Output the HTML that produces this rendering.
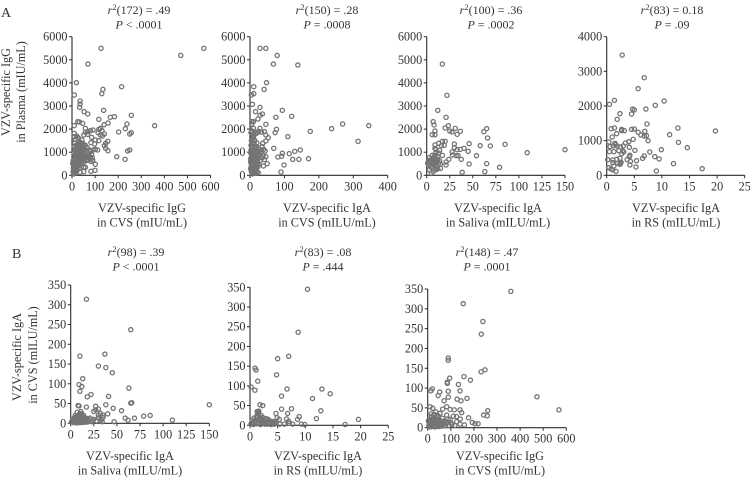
<!DOCTYPE html>
<html lang="en">
<head>
<meta charset="utf-8">
<title>VZV-specific antibody correlations</title>
<style>
html,body{margin:0;padding:0;background:#fff;width:750px;height:478px;overflow:hidden}
svg{display:block;filter:blur(0.3px)}
text{font-family:"Liberation Serif",serif;fill:#333;font-size:12.2px}
.ttl{font-size:12px}
</style>
</head>
<body>
<svg id="figure" width="750" height="478" viewBox="0 0 750 478" xmlns="http://www.w3.org/2000/svg"></svg>
<script>
const ticksIgG = [0,100,200,300,400,500,600];
const ticksIgACvs = [0,100,200,300,400];
const ticksSaliva = [0,25,50,75,100,125,150];
const ticksRS = [0,5,10,15,20,25];
const ticksPlasma6k = [0,1000,2000,3000,4000,5000,6000];
const ticksPlasma4k = [0,1000,2000,3000,4000];
const ticksCvs350 = [0,50,100,150,200,250,300,350];

const pointsA1 = [[126,5495],[471,5190],[571,5495],[69,4817],[19,4010],[10,3476],[215,3836],[134,3720],[129,3534],[35,3216],[35,3087],[33,2942],[137,2812],[52,2755],[68,2654],[257,2596],[184,2538],[166,2510],[116,2423],[25,2322],[32,2308],[46,2250],[10,2149],[358,2149],[238,2221],[231,2019],[156,2264],[139,2192],[202,1875],[257,1846],[250,1788],[116,1990],[123,2033],[130,1933],[113,1846],[123,1745],[140,1788],[132,1702],[101,1529],[116,1500],[155,1471],[146,1385],[140,1284],[146,1168],[156,1067],[111,1096],[101,1125],[194,807],[230,692],[241,1053],[250,1096],[101,476],[100,216],[82,173],[51,159],[51,346],[58,346],[58,2033],[80,1933],[91,1961],[68,1889],[58,1860],[51,1745],[68,1773],[85,1644],[10,1817],[10,1673],[25,1644],[43,1529],[82,1413],[98,1356],[5,150],[6,300],[8,500],[10,80],[10,700],[12,250],[13,420],[14,900],[15,600],[16,1100],[17,130],[18,350],[18,760],[20,1000],[20,520],[22,220],[22,1250],[24,660],[25,880],[26,410],[27,1150],[28,1350],[30,570],[30,300],[31,760],[32,1000],[33,1230],[34,900],[35,130],[36,1420],[37,1080],[38,700],[39,480],[40,1300],[41,850],[42,1160],[44,620],[45,1000],[46,1380],[48,780],[49,1250],[50,560],[52,920],[54,1100],[56,720],[58,1300],[60,840],[62,640],[64,1020],[66,1200],[68,780],[70,900],[72,660],[74,1100],[76,820],[78,720],[80,1030],[82,600],[85,900],[88,760],[90,650],[92,1100],[12,1400],[15,1550],[20,1700],[28,1600],[3,520],[5,640],[7,60],[9,960],[11,380],[12,1120],[14,180],[16,800],[18,1300],[19,540],[21,640],[23,340],[25,1020],[27,760],[29,1240],[31,440],[33,1100],[35,620],[37,1300],[39,900],[41,1040],[43,760],[45,1180],[47,880],[10,1250],[8,330],[6,420],[9,620],[11,220],[13,780],[15,340],[17,960],[19,1180],[21,460],[23,820],[24,1120],[26,600],[28,1000],[30,820],[32,680],[34,1300],[36,540],[38,1180],[40,960],[42,1400],[44,860],[46,700],[48,1100],[50,1320],[52,640],[54,800]];

const pointsA2 = [[29,5495],[46,5495],[79,5190],[68,4817],[139,4774],[48,4010],[11,3836],[41,3720],[11,3534],[4,3476],[7,3072],[29,2942],[16,2755],[94,2812],[36,2654],[29,2596],[121,2553],[75,2510],[23,2437],[5,2322],[10,2322],[5,2221],[46,2207],[269,2221],[345,2149],[237,2019],[29,2033],[77,1990],[10,2033],[175,1904],[73,1846],[42,1889],[46,1745],[110,1673],[53,1630],[314,1471],[46,1486],[37,1385],[69,1168],[146,1096],[130,1038],[94,952],[114,938],[92,822],[81,793],[170,721],[124,692],[142,692],[46,807],[99,447],[50,505],[39,404],[90,144],[24,115],[3,1850],[6,1920],[9,1760],[13,1880],[17,1800],[21,1840],[25,1900],[33,1870],[4,1500],[8,1420],[12,1540],[3,1300],[7,1240],[11,1340],[16,1280],[20,1400],[25,1180],[30,1100],[35,1240],[40,1120],[44,1050],[3,1100],[7,1020],[11,1120],[15,1000],[19,1060],[23,940],[28,880],[32,960],[38,860],[42,680],[4,900],[8,830],[12,900],[16,780],[20,840],[24,720],[30,640],[35,760],[2,720],[6,640],[10,700],[14,600],[18,660],[22,560],[26,480],[3,520],[7,460],[11,520],[15,420],[19,480],[23,380],[3,340],[7,280],[11,340],[15,240],[19,300],[4,160],[8,120],[12,180],[16,90],[20,150],[9,1620],[14,1500],[18,1180],[26,1020],[10,1680],[5,1200],[9,1060],[13,960],[17,880],[21,760],[5,800],[9,580],[13,440],[17,360],[5,420],[9,220],[13,100],[6,60],[6,1380],[14,1220],[10,820],[2,980],[2,600],[2,280]];

const pointsA3 = [[17,4817],[22,3462],[12,2812],[21,2510],[7,2322],[8,2178],[23.5,2149],[20,2048],[31,2033],[25,1918],[27.5,1875],[36.5,1904],[33,1773],[9,1918],[6,1760],[9,1760],[65,2019],[62,1889],[66,1615],[17,1471],[20,1471],[13,1385],[19,1298],[16,1284],[9,1312],[9,1168],[46,1370],[30,1356],[58,1284],[69,1269],[85,1341],[40.5,1168],[30,1197],[36.5,1125],[33,1110],[45,1038],[27.5,1010],[150,1110],[109,980],[28,880],[32,850],[34,850],[54,850],[17,865],[37.5,692],[24,692],[21,577],[46,490],[65,505],[21,447],[79,346],[38.5,130],[63,159],[1,520],[2,620],[3,240],[3,760],[4,440],[5,680],[5,340],[6,860],[6,540],[7,160],[7,740],[8,450],[8,620],[9,860],[9,300],[10,560],[10,980],[11,700],[11,420],[12,820],[12,280],[13,960],[13,520],[14,640],[15,300],[15,480],[2,440],[4,580],[6,700],[8,800],[10,240],[12,620],[14,1080],[10,1120],[7,520],[5,100],[3,640]];

const pointsA4 = [[2.8,3470],[6.8,2817],[5.7,2500],[1.4,2163],[10.4,2144],[0.5,2048],[8.8,2019],[4.7,1913],[5,1885],[7.1,1913],[2.4,1779],[4.5,1769],[1.9,1615],[7.3,1481],[0.8,1346],[1.4,1365],[2.7,1327],[2.7,1288],[3.2,1288],[4.5,1327],[5,1337],[12.9,1365],[19.7,1279],[6.9,1269],[5.7,1240],[1.8,1202],[6.2,1163],[11.4,1173],[6.8,1135],[7.2,1144],[1,1106],[4.8,1038],[7.5,1000],[0.4,962],[13,952],[4,971],[3.4,933],[1.5,923],[1.6,885],[1.2,846],[1.9,846],[3,846],[0.6,827],[2.5,817],[4.1,808],[14.6,798],[9.9,740],[5.1,721],[2.2,712],[2.9,702],[0.5,683],[1.3,683],[7.8,673],[3.1,673],[2.7,625],[6.8,558],[8.7,538],[4.2,577],[4.1,538],[6.5,490],[9.5,471],[3.7,452],[0.2,452],[1.1,442],[1.8,462],[2.4,490],[5.4,423],[4.3,404],[1.1,365],[2.6,375],[2,346],[2.4,317],[4.2,298],[12.1,337],[5.3,240],[17.3,192],[1.3,269],[0.4,221],[0.8,183],[1.1,154],[1.7,115],[9,125],[2.5,346]];

const pointsB1 = [[17,314],[65,237],[10,170],[37,175],[30,145],[38,141],[45,128],[13,113],[9,98],[12,93],[63,89],[10,81],[22,73],[18,67],[41,68],[66,52],[65,51],[38,47],[150,47],[8,45],[9,44],[17,41],[27,43],[46,38],[30,36],[55,32],[25,30],[32,25],[40,24],[35,21],[86,20],[79,18],[59,13],[69,13],[62,8],[110,8],[47,4],[35,15],[30,14],[21,13],[23,4],[17,8],[34,4],[30,21],[27,34],[1,4],[2,10],[3,2],[4,14],[5,6],[5,20],[6,1],[6,11],[7,28],[7,4],[8,16],[8,8],[9,2],[9,22],[10,12],[10,5],[11,30],[11,8],[12,18],[12,2],[13,11],[13,5],[14,20],[14,9],[15,3],[15,14],[16,7],[18,12],[19,4],[20,9],[25,10],[28,6],[33,10],[3,8],[6,16],[9,13],[12,24],[15,8],[4,4],[5,12],[7,10],[8,2],[9,6],[10,18],[11,14],[12,6],[13,16],[14,3],[16,12],[17,3],[7,18],[10,25],[24,7],[32,6]];

const pointsB2 = [[10.4,345],[8.7,236],[5,169],[7,175],[0.9,145],[1.1,140],[4.8,128],[1.4,112],[0.2,97],[0.9,89],[6.7,92],[13,92],[14.5,80],[5.7,74],[11.3,68],[1.8,52],[2.3,50],[5.7,41],[7.5,42],[12.8,37],[6.8,30],[4.7,30],[1.6,36],[1.3,35],[8.9,22],[8.6,15],[12,17],[19.6,15],[4.9,19],[5.3,15],[6.6,16],[7,10],[17.2,2],[9.9,2],[9.3,3],[7.7,3],[7.1,5],[5.4,3],[0.2,4],[0.4,12],[0.6,2],[0.7,18],[0.9,8],[1.1,22],[1.2,4],[1.4,14],[1.5,28],[1.6,6],[1.8,18],[1.9,2],[2.1,12],[2.3,20],[2.4,5],[2.6,15],[2.8,8],[2.9,17],[3.1,3],[3.2,12],[3.4,7],[3.6,10],[3.8,2],[4,6],[4.2,9],[4.4,3],[4.5,8],[6.2,3],[1.4,30],[1,10],[0.5,7],[1.7,11],[2.2,7],[2.7,3],[3.3,15],[3.9,10],[1.3,20],[2,25],[1.5,33],[4.7,5]];

const pointsB3 = [[360,344],[154,313],[239,268],[232,236],[89,176],[89,170],[248,146],[231,141],[157,129],[95,125],[185,120],[85,115],[85,112],[133,109],[20,98],[14,93],[52,90],[89,92],[140,93],[45,81],[89,77],[473,78],[71,68],[127,72],[144,68],[170,74],[568,45],[10,53],[82,53],[22,49],[65,47],[97,46],[115,45],[140,45],[147,38],[260,43],[242,32],[258,30],[177,25],[193,13],[205,10],[218,10],[159,7],[141,22],[125,28],[111,29],[82,32],[97,21],[125,15],[140,9],[68,13],[35,40],[53,36],[25,32],[3,17],[5,5],[8,12],[10,2],[12,20],[14,8],[16,28],[18,14],[20,4],[22,18],[24,10],[26,24],[28,6],[30,15],[32,2],[34,20],[36,11],[38,28],[40,5],[42,17],[44,9],[46,22],[48,3],[50,14],[52,7],[55,18],[58,4],[60,11],[63,24],[66,8],[70,16],[75,5],[80,10],[88,22],[92,6],[105,8],[15,35],[30,33],[45,30],[18,3],[33,8],[7,9],[11,15],[15,20],[19,9],[23,13],[27,18],[31,10],[35,6],[39,14],[43,12],[47,18],[51,10],[57,12],[62,6],[72,10],[85,14],[100,12],[118,6]];

const NS = 'http://www.w3.org/2000/svg';
const svg = document.getElementById('figure');

function make(tag, attrs, parent) {
  const el = document.createElementNS(NS, tag);
  for (const k in attrs) el.setAttribute(k, attrs[k]);
  parent.appendChild(el);
  return el;
}
function addTitle(parent, cx, by, df, post, p) {
  const t1 = make('text', {x: cx, y: by, 'text-anchor': 'middle', class: 'ttl'}, parent);
  
  
  t1.innerHTML = '<tspan font-style="italic">r</tspan><tspan dy="-4" font-size="8.5">2</tspan><tspan dy="4">(' + df + ') = ' + post + '</tspan>';
  const t2 = make('text', {x: cx, y: by + 14.5, 'text-anchor': 'middle', class: 'ttl'}, parent);
  
  
  t2.innerHTML = '<tspan font-style="italic">P</tspan> ' + p;
}
function drawPanel(cfg) {
  const g = make('g', {}, svg);
  
  
  const sx = v => cfg.x0 + (v / cfg.xMax) * (cfg.x1 - cfg.x0);
  const sy = v => cfg.y0 - (v / cfg.yMax) * (cfg.y0 - cfg.y1);
  const axisColor = '#2b2b2b';

  const xa = make('line', {x1: cfg.x0, x2: cfg.x1, y1: cfg.y0, y2: cfg.y0, stroke: axisColor, 'stroke-width': 1.1}, g);
  
  
  const ya = make('line', {x1: cfg.x0, x2: cfg.x0, y1: cfg.y0, y2: cfg.y1, stroke: axisColor, 'stroke-width': 1.1}, g);
  
  

  cfg.xTicks.forEach(v => {
    make('line', {x1: sx(v), x2: sx(v), y1: cfg.y0, y2: cfg.y0 + 3, stroke: axisColor, 'stroke-width': 1}, g);
    const t = make('text', {x: sx(v), y: cfg.y0 + 15, 'text-anchor': 'middle'}, g);
    
    
    t.textContent = v;
  });
  cfg.yTicks.forEach(v => {
    make('line', {x1: cfg.x0 - 3, x2: cfg.x0, y1: sy(v), y2: sy(v), stroke: axisColor, 'stroke-width': 1}, g);
    const t = make('text', {x: cfg.x0 - 4.5, y: sy(v) + 4, 'text-anchor': 'end'}, g);
    
    
    t.textContent = v;
  });
  cfg.points.forEach(p => {
    const c = make('circle', {cx: sx(p[0]), cy: sy(p[1]), r: 2.1, fill: 'none', stroke: '#747474', 'stroke-width': 1.3}, g);
    
    
  });
  addTitle(g, cfg.titleX, cfg.titleY, cfg.df, cfg.r, cfg.p);
  cfg.xTitle.forEach((line, i) => {
    const t = make('text', {x: cfg.xTitleX, y: cfg.xTitleY + i * 14.3, 'text-anchor': 'middle'}, g);
    
    
    t.textContent = line;
  });
}

const panels = [
  {name:'panel-a-igg-cvs', x0:72, x1:210.5, xMax:600, y0:175.3, y1:36.7, yMax:6000, xTicks:ticksIgG, yTicks:ticksPlasma6k, points:pointsA1, titleX:139, titleY:14, df:'172', r:'.49', p:'&lt; .0001', xTitle:['VZV-specific IgG','in CVS (mIU/mL)'], xTitleX:142, xTitleY:212},
  {name:'panel-a-iga-cvs', x0:250, x1:387.7, xMax:400, y0:175.3, y1:36.7, yMax:6000, xTicks:ticksIgACvs, yTicks:ticksPlasma6k, points:pointsA2, titleX:327, titleY:14, df:'150', r:'.28', p:'= .0008', xTitle:['VZV-specific IgA','in CVS (mILU/mL)'], xTitleX:327, xTitleY:212},
  {name:'panel-a-iga-saliva', x0:426.7, x1:565, xMax:150, y0:175.3, y1:36.7, yMax:6000, xTicks:ticksSaliva, yTicks:ticksPlasma6k, points:pointsA3, titleX:491, titleY:14, df:'100', r:'.36', p:'= .0002', xTitle:['VZV-specific IgA','in Saliva (mILU/mL)'], xTitleX:498, xTitleY:212},
  {name:'panel-a-iga-rs', x0:606.7, x1:744.7, xMax:25, y0:175.3, y1:36.7, yMax:4000, xTicks:ticksRS, yTicks:ticksPlasma4k, points:pointsA4, titleX:672, titleY:14, df:'83', r:'0.18', p:'= .09', xTitle:['VZV-specific IgA','in RS (mILU/mL)'], xTitleX:676, xTitleY:212},
  {name:'panel-b-iga-saliva', x0:70.7, x1:209.3, xMax:150, y0:423.3, y1:285, yMax:350, xTicks:ticksSaliva, yTicks:ticksCvs350, points:pointsB1, titleX:136, titleY:256, df:'98', r:'.39', p:'&lt; .0001', xTitle:['VZV-specific IgA','in Saliva (mILU/mL)'], xTitleX:130, xTitleY:460},
  {name:'panel-b-iga-rs', x0:250, x1:388.3, xMax:25, y0:425.3, y1:287.3, yMax:350, xTicks:ticksRS, yTicks:ticksCvs350, points:pointsB2, titleX:323, titleY:256, df:'83', r:'.08', p:'= .444', xTitle:['VZV-specific IgA','in RS (mILU/mL)'], xTitleX:318, xTitleY:460},
  {name:'panel-b-igg-cvs', x0:427.7, x1:566.3, xMax:600, y0:427.7, y1:289, yMax:350, xTicks:ticksIgG, yTicks:ticksCvs350, points:pointsB3, titleX:487, titleY:256, df:'148', r:'.47', p:'= .0001', xTitle:['VZV-specific IgG','in CVS (mIU/mL)'], xTitleX:500, xTitleY:460}
];
panels.forEach(drawPanel);

const labelA = make('text', {x: 1, y: 17}, svg);


labelA.style.fontSize = '14px';
labelA.textContent = 'A';
const labelB = make('text', {x: 12, y: 258}, svg);


labelB.style.fontSize = '14px';
labelB.textContent = 'B';

const yTitleLines = [
  {x: 10, y: 92, text: 'VZV-specific IgG'},
  {x: 25, y: 92, text: 'in Plasma (mIU/mL)'},
  {x: 21, y: 357, text: 'VZV-specific IgA'},
  {x: 37, y: 355, text: 'in CVS (mILU/mL)'}
];
yTitleLines.forEach(l => {
  const t = make('text', {x: 0, y: 0, 'text-anchor': 'middle', transform: 'translate(' + l.x + ',' + l.y + ') rotate(-90)'}, svg);
  
  
  t.textContent = l.text;
});
</script>
</body>
</html>
